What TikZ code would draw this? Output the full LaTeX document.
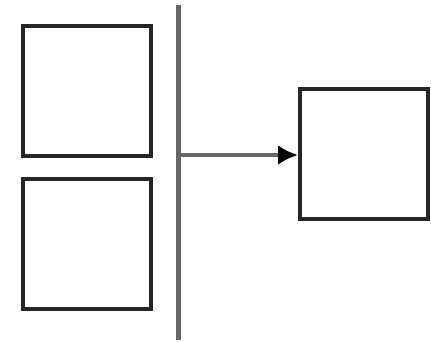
\documentclass[tikz,border=0pt]{standalone}
\usepackage{tikz}
\usetikzlibrary{arrows.meta}

\begin{document}
\begin{tikzpicture}[x=1pt, y=1pt,
  box/.style={draw=black!85, line width=4pt, minimum width=128pt, minimum height=130pt, inner sep=0pt, fill=white},
  bar/.style={draw=black!60, line width=5pt},
  arr/.style={-{Latex[length=20pt, width=20pt, color=black]}, draw=black!60, line width=4pt}]
  \useasboundingbox (0,0) rectangle (431,341);
  \node[box] (upper) at (86.5,250) {};
  \node[box] (lower) at (86.5,97) {};
  \node[box] (target) at (364,187) {};
  \coordinate (bartop) at (178,336);
  \coordinate (barbot) at (178,1);
  \coordinate (barmid) at (178,186);
  \draw[bar] (bartop) -- (barbot);
  \draw[arr] (barmid) -- (target.west |- barmid);
\end{tikzpicture}
\end{document}
